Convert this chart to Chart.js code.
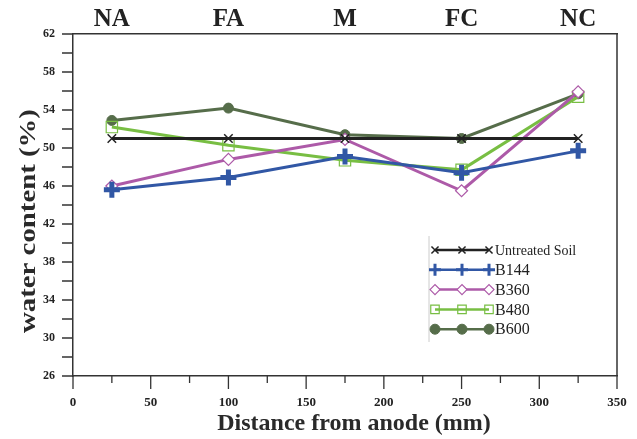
<!DOCTYPE html>
<html>
<head>
<meta charset="utf-8">
<script src="https://cdn.jsdelivr.net/npm/chart.js@4.4.0/dist/chart.umd.min.js"></script>
<style>
  html, body { margin: 0; padding: 0; background: #fff; }
  #wrap { width: 637px; height: 439px; }
</style>
</head>
<body>
<div id="wrap"><canvas id="waterChart"></canvas></div>
<script>
// ==================== Data ====================
const distances = [25, 100, 175, 250, 325];
const zoneLabels = ['NA', 'FA', 'M', 'FC', 'NC'];
const untreated = [51.0, 51.0, 51.0, 51.0, 51.0];
const b144 = [45.6, 46.9, 49.1, 47.4, 49.7];
const b360 = [46.0, 48.8, 50.9, 45.5, 55.9];
const b480 = [52.2, 50.3, 48.7, 47.7, 55.4];
const b600 = [52.9, 54.2, 51.4, 51.0, 55.7];
const yLabelTicks = [26, 30, 34, 38, 42, 46, 50, 54, 58, 62];
const xLabelTicks = [0, 50, 100, 150, 200, 250, 300, 350];

const serif = "'Liberation Serif', 'DejaVu Serif', serif";

function pts(values) {
    return distances.map((d, i) => ({ x: d, y: values[i] }));
}

// ==================== Plugins ====================
// right frame line, hand drawn tick marks (major / minor) and axis titles
const frame = {
    id: 'frame',
    afterDatasetsDraw(chart) {
        const { ctx, chartArea: a, scales } = chart;
        ctx.save();
        ctx.strokeStyle = '#333';
        ctx.lineWidth = 1.5;
        ctx.beginPath();
        ctx.moveTo(a.right, a.top);
        ctx.lineTo(a.right, a.bottom);
        ctx.stroke();

        ctx.lineWidth = 1.3;
        ctx.beginPath();
        scales.x.ticks.forEach(t => {
            const px = scales.x.getPixelForValue(t.value);
            const len = xLabelTicks.includes(t.value) ? 13 : 7;
            ctx.moveTo(px, a.bottom);
            ctx.lineTo(px, a.bottom + len);
        });
        scales.y.ticks.forEach(t => {
            const py = scales.y.getPixelForValue(t.value);
            ctx.moveTo(a.left, py);
            ctx.lineTo(a.left - 11, py);
        });
        ctx.stroke();

        ctx.fillStyle = '#2a2a2a';
        ctx.textAlign = 'center';
        ctx.textBaseline = 'middle';
        ctx.font = 'bold 24px ' + serif;
        ctx.fillText('Distance from anode (mm)', 354, 424);

        // y axis title, drawn stretched along its length like the original
        ctx.translate(29, (a.top + a.bottom) / 2 + 16);
        ctx.rotate(-Math.PI / 2);
        ctx.scale(1.2, 1);
        ctx.font = 'bold 24px ' + serif;
        ctx.fillText('water content (%)', 0, 0);
        ctx.restore();
    }
};

const boxLegend = {
    id: 'boxLegend',
    afterDraw(chart) {
        const ctx = chart.ctx;
        ctx.save();
        ctx.strokeStyle = '#ccc';
        ctx.lineWidth = 1;
        ctx.beginPath();
        ctx.moveTo(429, 236);
        ctx.lineTo(429, 342);
        ctx.stroke();

        chart.data.datasets.forEach((ds, i) => {
            const y = 250 + i * 19.8;
            ctx.strokeStyle = ds.borderColor;
            ctx.lineWidth = 2.5;
            ctx.beginPath();
            ctx.moveTo(435, y);
            ctx.lineTo(489, y);
            ctx.stroke();
            [435, 462, 489].forEach(x => {
                ctx.strokeStyle = ds.pointBorderColor;
                ctx.fillStyle = ds.pointBackgroundColor;
                ctx.lineWidth = ds.legendBorder;
                Chart.helpers.drawPoint(ctx, {
                    pointStyle: ds.pointStyle,
                    radius: ds.legendRadius,
                    rotation: 0,
                    borderWidth: ds.legendBorder
                }, x, y);
            });
            ctx.fillStyle = '#222';
            ctx.font = (i === 0 ? '14px ' : '16px ') + serif;
            ctx.textBaseline = 'middle';
            ctx.fillText(ds.label, 495, y + 1);
        });
        ctx.restore();
    }
};

// ==================== Chart ====================
const ctx = document.getElementById('waterChart').getContext('2d');
new Chart(ctx, {
    type: 'line',
    data: {
        datasets: [{
            label: 'Untreated Soil',
            data: pts(untreated),
            borderColor: '#222',
            borderWidth: 3,
            pointStyle: 'crossRot',
            pointRadius: 6,
            legendRadius: 5,
            legendBorder: 1.5,
            pointBorderColor: '#222',
            pointBackgroundColor: '#222',
            pointBorderWidth: 1.5
        }, {
            label: 'B144',
            data: pts(b144),
            borderColor: '#3157a5',
            borderWidth: 3,
            pointStyle: 'cross',
            pointRadius: 8,
            legendRadius: 6,
            legendBorder: 3,
            pointBorderColor: '#3157a5',
            pointBackgroundColor: '#3157a5',
            pointBorderWidth: 5
        }, {
            label: 'B360',
            data: pts(b360),
            borderColor: '#ad5aa8',
            borderWidth: 3,
            pointStyle: 'rectRot',
            pointRadius: 6,
            legendRadius: 5,
            legendBorder: 1.2,
            pointBorderColor: '#ad5aa8',
            pointBackgroundColor: '#fff',
            pointBorderWidth: 1.2
        }, {
            label: 'B480',
            data: pts(b480),
            borderColor: '#78be43',
            borderWidth: 3,
            pointStyle: 'rect',
            pointRadius: 8,
            legendRadius: 6,
            legendBorder: 1.2,
            pointBorderColor: '#78be43',
            pointBackgroundColor: 'rgba(255,255,255,0)',
            pointBorderWidth: 1.2
        }, {
            label: 'B600',
            data: pts(b600),
            borderColor: '#566d4a',
            borderWidth: 3,
            pointStyle: 'circle',
            pointRadius: 5,
            legendRadius: 5,
            legendBorder: 1,
            pointBorderColor: '#566d4a',
            pointBackgroundColor: '#566d4a',
            pointBorderWidth: 1
        }]
    },
    options: {
        responsive: true,
        maintainAspectRatio: false,
        animation: false,
        layout: { padding: { right: 20, left: 0, top: 0, bottom: 0 } },
        plugins: {
            legend: { display: false },
            tooltip: { enabled: false }
        },
        scales: {
            x: {
                type: 'linear',
                min: 0,
                max: 350,
                afterBuildTicks: s => { s.ticks = []; for (let v = 0; v <= 350; v += 25) s.ticks.push({ value: v }); },
                afterFit: s => { s.height = 63; },
                ticks: {
                    autoSkip: false,
                    maxRotation: 0,
                    color: '#222',
                    padding: 6,
                    font: { family: serif, size: 13, weight: 'bold' },
                    callback: v => xLabelTicks.includes(v) ? String(v) : ''
                },
                grid: { drawOnChartArea: false, tickLength: 13, tickColor: 'rgba(0,0,0,0)' },
                border: { color: '#333', width: 1.5 }
            },
            xTop: {
                type: 'linear',
                position: 'top',
                min: 0,
                max: 350,
                afterBuildTicks: s => { s.ticks = distances.map(v => ({ value: v })); },
                afterFit: s => { s.height = 34; },
                ticks: {
                    autoSkip: false,
                    maxRotation: 0,
                    color: '#222',
                    padding: -1,
                    font: { family: serif, size: 25, weight: 'bold' },
                    callback: v => zoneLabels[distances.indexOf(v)]
                },
                grid: { display: false, drawTicks: false },
                border: { display: true, color: '#333', width: 1.5 }
            },
            y: {
                min: 26,
                max: 62,
                afterBuildTicks: s => { s.ticks = []; for (let v = 26; v <= 62; v += 2) s.ticks.push({ value: v }); },
                afterFit: s => { s.width = 73; },
                ticks: {
                    autoSkip: false,
                    color: '#222',
                    padding: 7,
                    font: { family: serif, size: 12, weight: 'bold' },
                    callback: v => yLabelTicks.includes(v) ? String(v) : ''
                },
                grid: { drawOnChartArea: false, tickLength: 11, tickColor: 'rgba(0,0,0,0)' },
                border: { color: '#333', width: 1.5 }
            }
        }
    },
    plugins: [frame, boxLegend]
});
</script>
</body>
</html>
